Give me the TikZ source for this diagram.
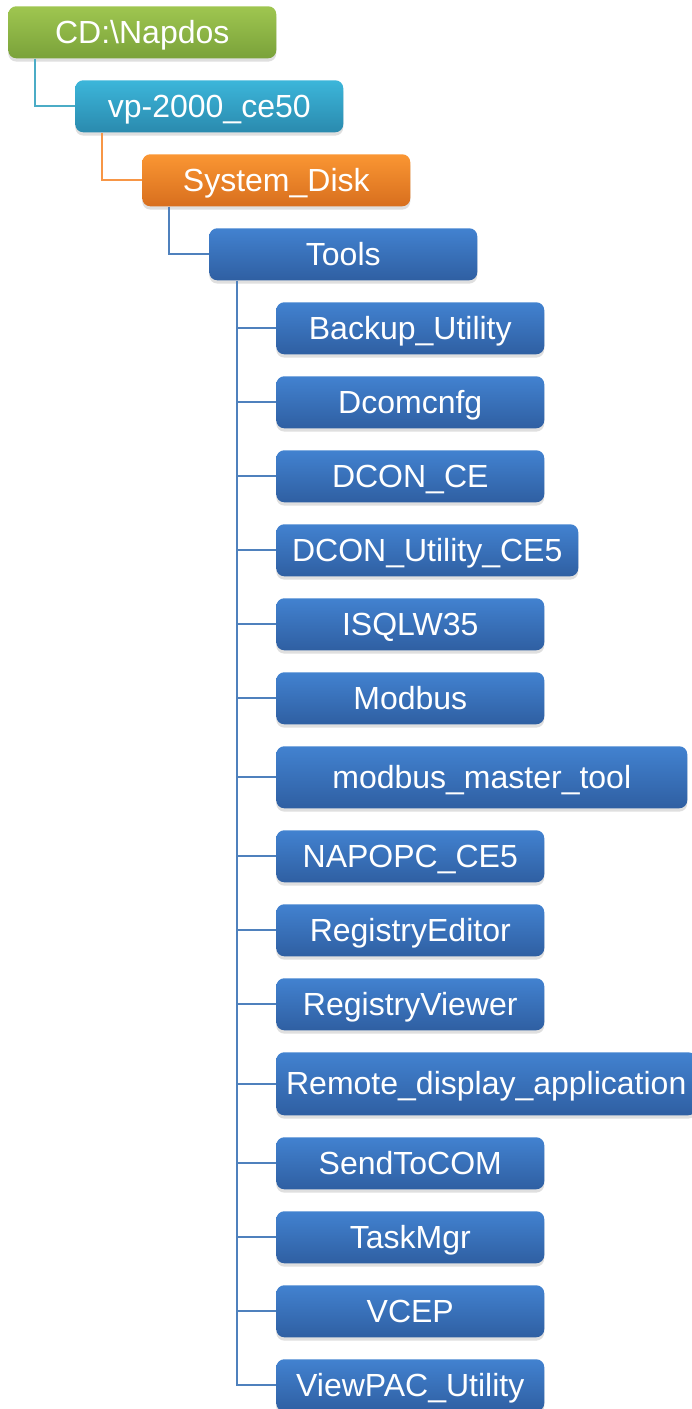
\documentclass[tikz,border=0pt]{standalone}
\usepackage{fontspec}
\setmainfont{Liberation Sans}
\usetikzlibrary{shadows,calc}

\definecolor{grnTop}{HTML}{9FC650}
\definecolor{grnBot}{HTML}{7AA23A}
\definecolor{aquTop}{HTML}{3CB6DA}
\definecolor{aquBot}{HTML}{2A8AAE}
\definecolor{orgTop}{HTML}{FA9633}
\definecolor{orgBot}{HTML}{D86F1E}
\definecolor{bluTop}{HTML}{4282D0}
\definecolor{bluBot}{HTML}{2F5FA2}
\definecolor{aquLine}{HTML}{4BACC6}
\definecolor{orgLine}{HTML}{F79646}
\definecolor{bluLine}{HTML}{4F81BD}

\tikzset{
  folder/.style={rounded corners=6pt, anchor=north west, inner sep=0pt,
    minimum width=201pt, minimum height=39pt, text=white,
    text height=21.7pt, text depth=5.1pt,
    font=\fontsize{24}{28}\selectfont,
    drop shadow={opacity=0.25, shadow xshift=0pt, shadow yshift=-2.5pt}},
  grnbox/.style={folder, top color=grnTop, bottom color=grnBot},
  aqubox/.style={folder, top color=aquTop, bottom color=aquBot},
  orgbox/.style={folder, top color=orgTop, bottom color=orgBot},
  blubox/.style={folder, top color=bluTop, bottom color=bluBot},
  link/.style={line width=1.6pt}
}

\begin{document}
\begin{tikzpicture}[x=0.75pt, y=-0.75pt]
  \useasboundingbox (0,0) rectangle (692,1409);

  % path to the tools folder
  \node[grnbox] (cd) at (8,6) {CD:\textbackslash Napdos};
  \node[aqubox] (vp) at (75,80) {vp-2000\_ce50};
  \node[orgbox] (sysdisk) at (142,154) {System\_Disk};
  \node[blubox] (tools) at (209,228) {Tools};

  \draw[link, aquLine] ($(cd.south west)+(27,0)$) |- (vp.west);
  \draw[link, orgLine] ($(vp.south west)+(27,0)$) |- (sysdisk.west);
  \draw[link, bluLine] ($(sysdisk.south west)+(27,0)$) |- (tools.west);

  % contents of Tools
  \node[blubox] (backup) at (276,302) {Backup\_Utility};
  \node[blubox] (dcom) at (276,376) {Dcomcnfg};
  \node[blubox] (dconce) at (276,450) {DCON\_CE};
  \node[blubox, minimum width=226.5pt] (dconutil) at (276,524) {DCON\_Utility\_CE5};
  \node[blubox] (isqlw) at (276,598) {ISQLW35};
  \node[blubox] (modbus) at (276,672) {Modbus};
  \node[blubox, minimum width=308.25pt, minimum height=46.5pt] (mbmaster) at (276,746) {modbus\_master\_tool};
  \node[blubox] (napopc) at (276,830) {NAPOPC\_CE5};
  \node[blubox] (regedit) at (276,904) {RegistryEditor};
  \node[blubox] (regview) at (276,978) {RegistryViewer};
  \node[blubox, minimum width=315pt, minimum height=47.25pt] (remote) at (276,1052) {Remote\_display\_application};
  \node[blubox] (sendcom) at (276,1137) {SendToCOM};
  \node[blubox] (taskmgr) at (276,1211) {TaskMgr};
  \node[blubox] (vcep) at (276,1285) {VCEP};
  \node[blubox] (viewpac) at (276,1359) {ViewPAC\_Utility};

  \coordinate (trunk) at ($(tools.south west)+(28,0)$);
  \draw[link, bluLine] (trunk) |- (viewpac.west);
  \foreach \n in {backup,dcom,dconce,dconutil,isqlw,modbus,mbmaster,napopc,regedit,regview,remote,sendcom,taskmgr,vcep}
    \draw[link, bluLine] (trunk |- \n.west) -- (\n.west);
\end{tikzpicture}
\end{document}
